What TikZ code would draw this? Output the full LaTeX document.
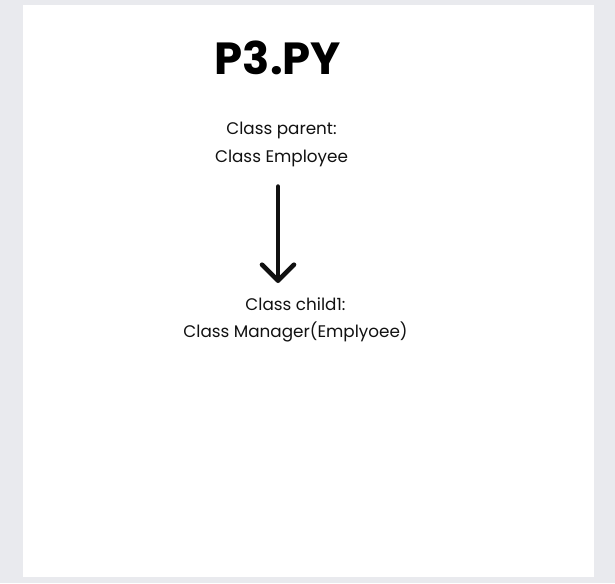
\documentclass[tikz,border=0pt]{standalone}
\usepackage{fontspec}
\setmainfont{Poppins}
\usetikzlibrary{arrows.meta}
\definecolor{pagegray}{HTML}{E9EAEE}
\definecolor{ink}{HTML}{111111}
\begin{document}
\begin{tikzpicture}[x=1pt,y=-1pt,
  label text/.style={font=\fontsize{16.8}{27.5}\selectfont, align=center, text=ink, inner sep=0pt},
  title text/.style={font=\fontsize{45}{50}\bfseries, text=black, inner sep=0pt},
  flow/.style={draw=ink, line width=4.6pt, line cap=round,
    -{Straight Barb[length=16pt,width=32pt,round]}}]
  % page and card
  \fill[pagegray] (0,0) rectangle (615,583);
  \fill[white] (22.5,5) rectangle (594,577);
  \useasboundingbox (0,0) rectangle (615,583);
  % title
  \node[title text, anchor=base] (title) at (278,75) {P3.PY};
  % class boxes (base anchor sits on the last line)
  \node[label text, anchor=base] (parent) at (281.5,162) {Class parent:\\Class Employee};
  \node[label text, anchor=base] (child) at (295.5,337.5) {Class child1:\\Class Manager(Emplyoee)};
  % inheritance arrow
  \coordinate (from) at ([yshift=-20pt]parent.south -| 278,0);
  \coordinate (to) at ([yshift=14pt]child.north -| 278,0);
  \draw[flow] (from) -- (to);
\end{tikzpicture}
\end{document}
